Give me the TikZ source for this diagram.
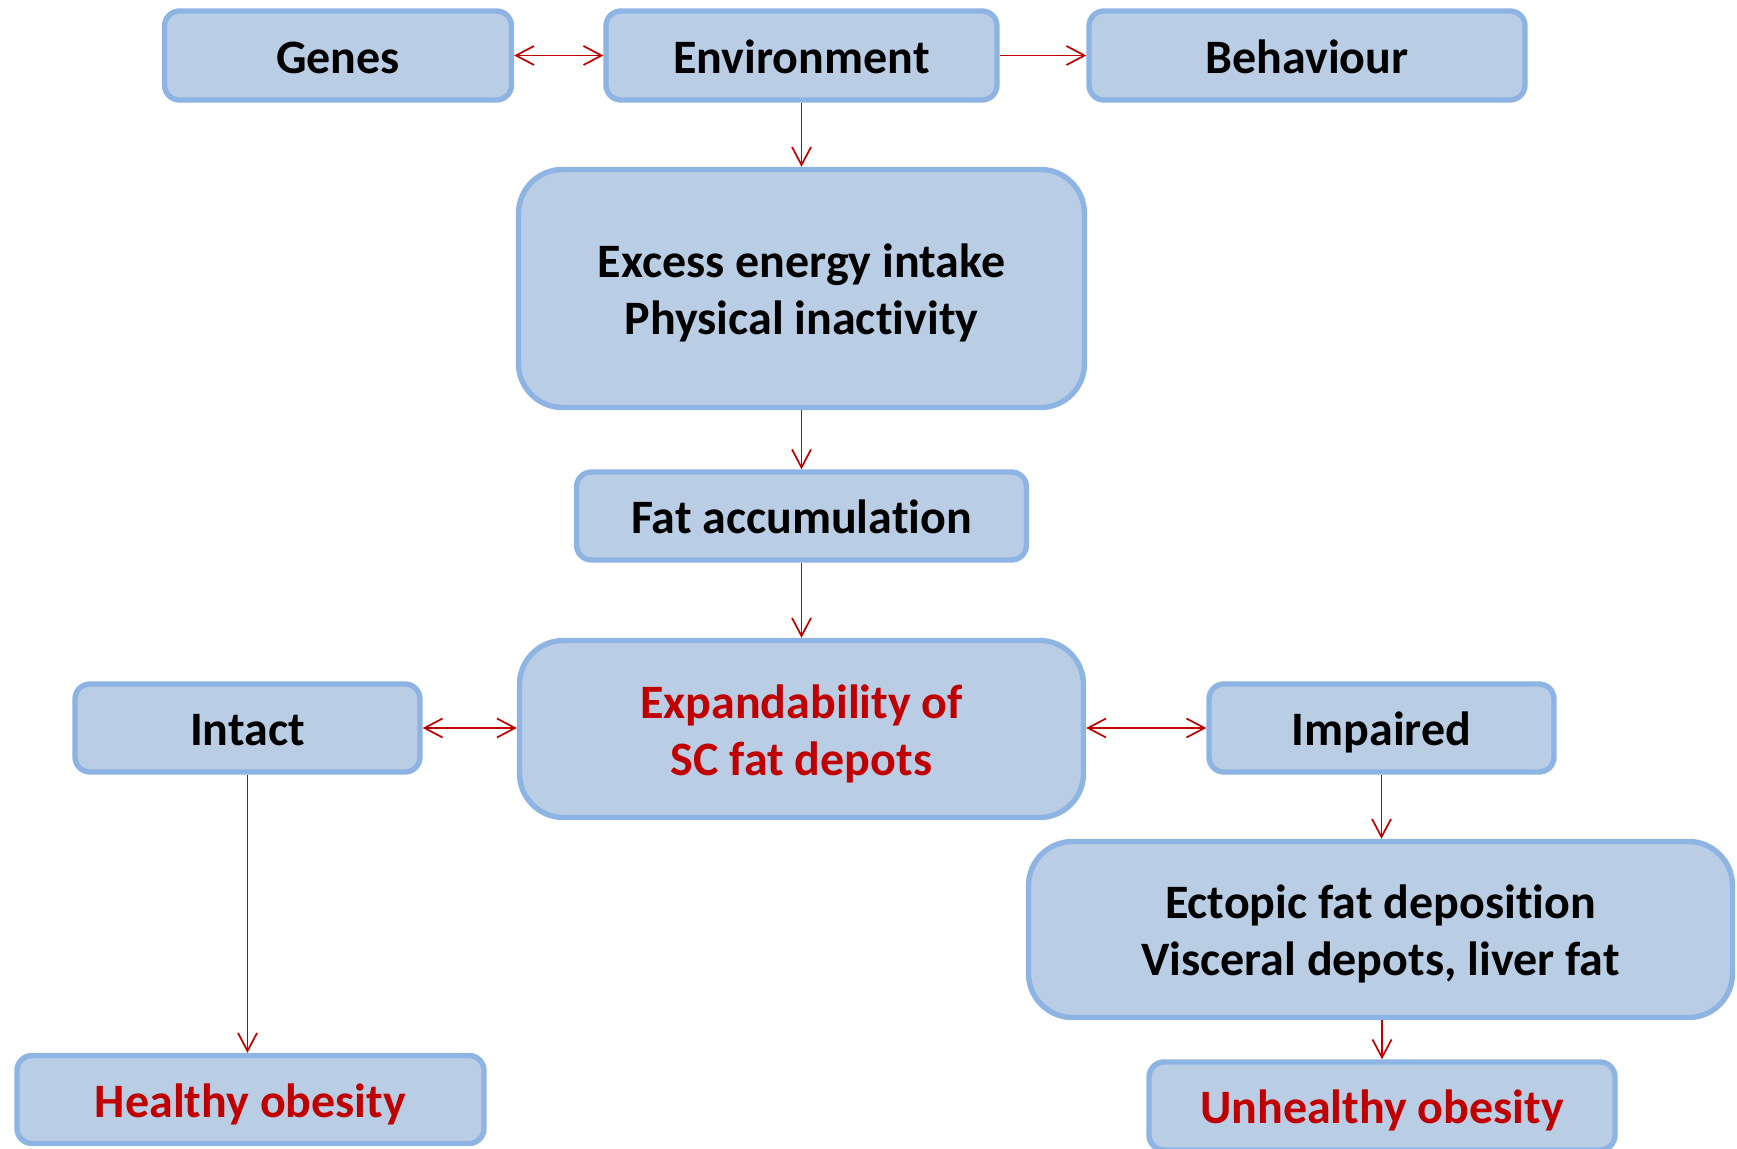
\documentclass[tikz,border=0pt]{standalone}
\usepackage{fontspec}
\setmainfont{Carlito}[Ligatures={NoCommon,NoContextual}]
\usetikzlibrary{arrows.meta}
\definecolor{boxfill}{HTML}{B9CDE5}
\definecolor{boxline}{HTML}{8EB4E3}
\definecolor{darkred}{HTML}{C00000}
\newcommand{\lowtext}[1]{\raisebox{-3.2pt}[\height][\depth]{\begin{tabular}{@{}c@{}}#1\end{tabular}}}
\tikzset{
  box/.style={draw=boxline, fill=boxfill, line width=2.7pt, rounded corners=7.5pt,
    align=center, inner sep=0pt, font=\fontsize{24}{28.5}\selectfont\bfseries},
  bigbox/.style={box, rounded corners=22pt},
  redtext/.style={text=darkred},
  conn/.style={draw=darkred, line width=0.85pt, -{Straight Barb[length=9pt,width=9.5pt,line width=0.85pt]}},
  biconn/.style={conn, {Straight Barb[length=9pt,width=9.5pt,line width=0.85pt]}-{Straight Barb[length=9pt,width=9.5pt,line width=0.85pt]}}
}
\begin{document}
\begin{tikzpicture}[x=0.5pt,y=-0.5pt]
\useasboundingbox (0,0) rectangle (1737,1149);
\node[box, minimum width=173.5pt, minimum height=44.5pt] (genes) at (338,55.5) {\lowtext{Genes}};
\node[box, minimum width=195.5pt, minimum height=44.5pt] (env) at (801.5,55.5) {\lowtext{Environment}};
\node[box, minimum width=218pt, minimum height=44.5pt] (beh) at (1307,55.5) {\lowtext{Behaviour}};
\node[bigbox, minimum width=283pt, minimum height=119pt] (excess) at (801.5,288.5) {\lowtext{Excess energy intake\\Physical inactivity}};
\node[box, minimum width=225pt, minimum height=44pt] (fat) at (801.5,516) {\lowtext{Fat accumulation}};
\node[bigbox, minimum width=282pt, minimum height=88.5pt, redtext] (exp) at (801.5,729) {\lowtext{Expandability of\\SC fat depots}};
\node[box, minimum width=172.5pt, minimum height=44pt] (intact) at (247.5,728) {\lowtext{Intact}};
\node[box, minimum width=172.5pt, minimum height=44pt] (imp) at (1381.5,728) {\lowtext{Impaired}};
\node[bigbox, minimum width=352pt, minimum height=88pt] (ect) at (1380.5,929.5) {\lowtext{Ectopic fat deposition\\Visceral depots, liver fat}};
\node[box, minimum width=233.5pt, minimum height=44pt, redtext] (healthy) at (250.5,1099.5) {\lowtext{Healthy obesity}};
\node[box, minimum width=233pt, minimum height=44pt, redtext] (unhealthy) at (1382,1106) {\lowtext{Unhealthy obesity}};

\draw[biconn] (genes.east) -- (env.west);
\draw[conn] (env.east) -- (beh.west);
\draw[conn] (env.south) -- (excess.north);
\draw[conn] (excess.south) -- (fat.north);
\draw[conn] (fat.south) -- (exp.north);
\draw[biconn] (intact.east) -- (intact.east -| exp.west);
\draw[biconn] (exp.east |- imp.west) -- (imp.west);
\draw[conn] (imp.south) -- (imp.south |- ect.north);
\draw[conn] (intact.south) -- (intact.south |- healthy.north);
\draw[conn] (ect.south -| unhealthy.north) -- (unhealthy.north);
\end{tikzpicture}
\end{document}
